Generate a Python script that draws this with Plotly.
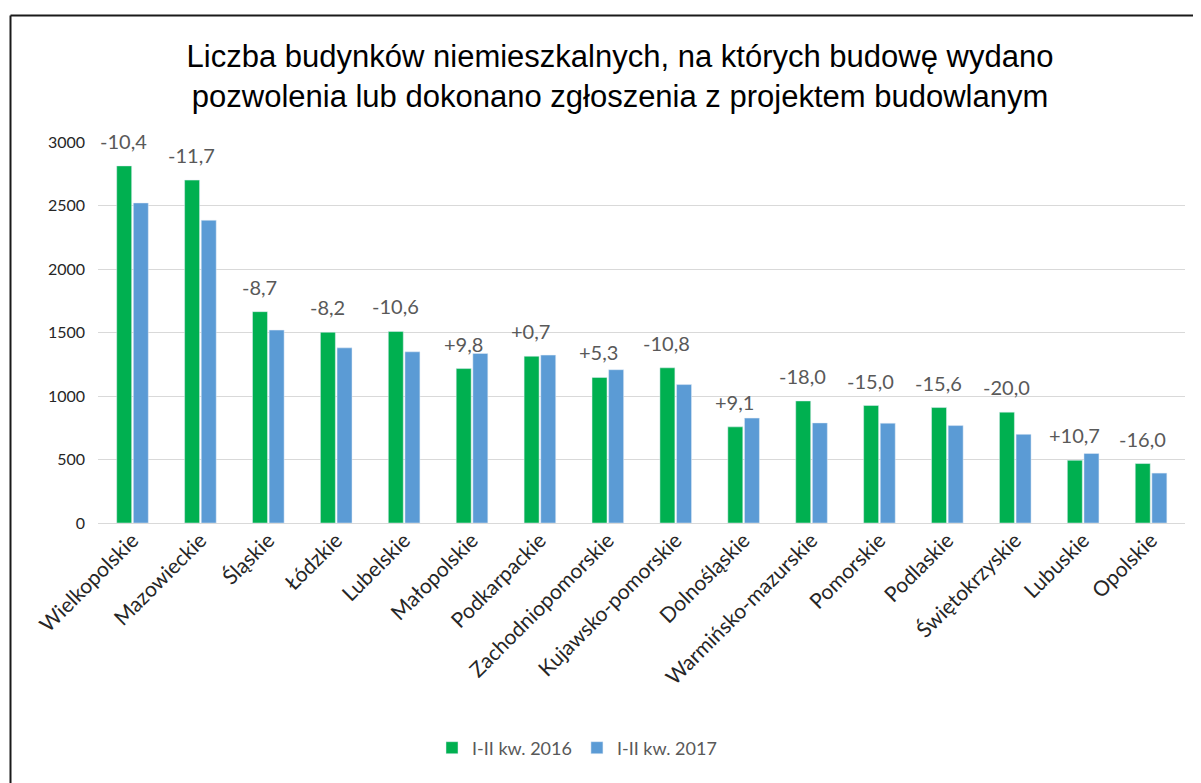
import plotly.graph_objects as go

regions = ["Wielkopolskie", "Mazowieckie", "Śląskie", "Łódzkie", "Lubelskie",
           "Małopolskie", "Podkarpackie", "Zachodniopomorskie", "Kujawsko-pomorskie",
           "Dolnośląskie", "Warmińsko-mazurskie", "Pomorskie", "Podlaskie",
           "Świętokrzyskie", "Lubuskie", "Opolskie"]
values_2016 = [2812, 2700, 1664, 1502, 1508, 1216, 1313, 1146, 1222, 757, 961, 925, 909, 873, 494, 468]
values_2017 = [2520, 2384, 1519, 1379, 1348, 1335, 1322, 1207, 1090, 826, 788, 786, 767, 698, 547, 393]
change_labels = ["-10,4", "-11,7", "-8,7", "-8,2", "-10,6", "+9,8", "+0,7", "+5,3", "-10,8",
                 "+9,1", "-18,0", "-15,0", "-15,6", "-20,0", "+10,7", "-16,0"]
series_names = ["I-II kw. 2016", "I-II kw. 2017"]
y_ticks = [0, 500, 1000, 1500, 2000, 2500, 3000]

GREEN = "#00B050"
BLUE = "#5B9BD5"
FONT = "Lato, Calibri, Carlito, sans-serif"

# page offset (default body margin of 8px)
OFF = 8
W, H = 1201 - OFF, 783 - OFF

fig = go.Figure()
fig.add_trace(go.Bar(x=regions, y=values_2016, name=series_names[0], marker_color=GREEN))
fig.add_trace(go.Bar(x=regions, y=values_2017, name=series_names[1], marker_color=BLUE))

for r, v, t in zip(regions, values_2016, change_labels):
    fig.add_annotation(x=r, y=v, text=t, showarrow=False, xshift=-9, yshift=25,
                       yanchor="middle", xanchor="center",
                       font=dict(family=FONT, size=20, color="#595959"))

# plot area in page pixels
L, R, T, B = 98, 1185, 142, 523
def px(x):
    return (x - L) / (R - L)
def py(y):
    return (B - y) / (B - T)
line = dict(color="#1a1a1a", width=2)
fig.add_shape(type="line", xref="paper", yref="paper", x0=px(10.5), x1=px(1201), y0=py(15.5), y1=py(15.5), line=line)
fig.add_shape(type="line", xref="paper", yref="paper", x0=px(10.5), x1=px(10.5), y0=py(15.5), y1=py(783), line=line)

fig.update_layout(
    width=W, height=H,
    margin=dict(l=L - OFF, r=1201 - R, t=T - OFF, b=783 - B),
    paper_bgcolor="white", plot_bgcolor="white",
    barmode="group", bargap=0.51, bargroupgap=0.1,
    title=dict(text="Liczba budynków niemieszkalnych, na których budowę wydano<br>pozwolenia lub dokonano zgłoszenia z projektem budowlanym",
               xref="container", x=(620 - OFF) / W, xanchor="center", y=1 - 59 / H, yanchor="middle",
               font=dict(family="Liberation Sans Narrow, Liberation Sans, Arial", size=31, color="#000000")),
    font=dict(family=FONT),
    showlegend=True,
    legend=dict(orientation="h", x=px(577), xanchor="center", y=py(748), yanchor="middle",
                font=dict(family=FONT, size=18, color="#595959"), itemwidth=30),
    xaxis=dict(tickangle=-45, tickfont=dict(family=FONT, size=21, color="#262626"),
               showgrid=False, showline=False, ticks=""),
    yaxis=dict(range=[0, 3000], tickvals=y_ticks, ticktext=[str(v) for v in y_ticks],
               tickfont=dict(family=FONT, size=16, color="#262626"),
               showgrid=True, gridcolor="#d9d9d9", gridwidth=1, zeroline=True,
               zerolinecolor="#d9d9d9", zerolinewidth=1, showline=False, ticks="", ticklabelstandoff=12),
)

fig.write_html("out.html")
